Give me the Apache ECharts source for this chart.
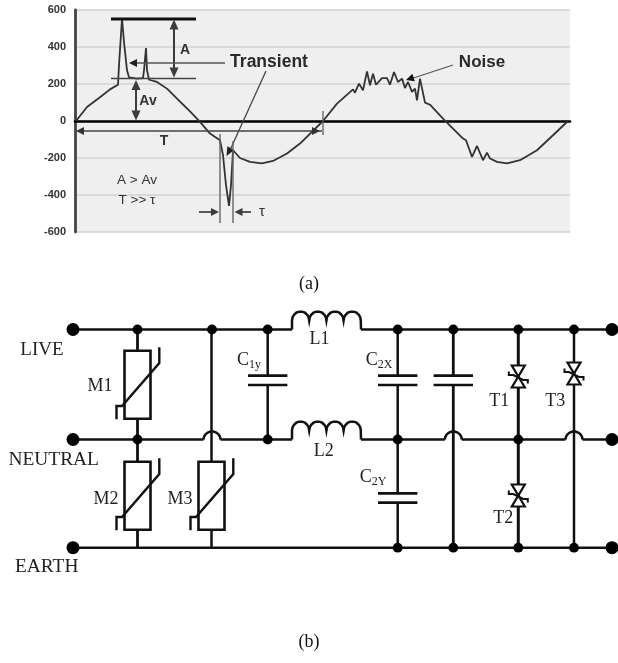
<!DOCTYPE html>
<html><head><meta charset="utf-8">
<style>html,body{margin:0;padding:0;background:#fff}#c{width:618px;height:663px;filter:blur(0.55px)}</style>
<script src="https://cdn.jsdelivr.net/npm/echarts@6/dist/echarts.min.js"></script>
</head><body><div id="c"></div>
<script>
// Waveform panel (a): horizontal position along the trace, and voltage
const waveX = [1,12,25,35,43,44,47,49,52,54,62,68,69,71,72,74,82,92,102,115,125,135,145,148,151,154,156,158,165,175,187,198,212,225,248,262,278,280,284,288,292,295,298,301,307,312,315,319,323,327,330,333,337,340,342,345,347,350,355,368,388,391,397,402,408,412,415,422,432,445,462,478,493];
const waveV = [0,76,128,171,196,301,553,427,274,236,229,232,274,394,274,223,211,175,121,52,-5,-68,-104,-185,-347,-459,-347,-158,-200,-221,-229,-216,-176,-122,0,94,171,153,202,166,268,193,256,196,232,232,196,265,211,229,178,211,157,175,112,229,229,99,88,13,-95,-104,-194,-135,-212,-171,-203,-221,-229,-212,-158,-77,0];
const yTicks = [-600,-400,-200,0,200,400,600];

// Schematic panel (b): rails and branch positions
const railLive = 329.5, railNeutral = 439.5, railEarth = 547.7;
const termLeft = 73, termRight = 612;
const liveNodes = [137.5,212,267.7,397.7,453.3,518.3,574];
const neutralNodes = [137.5,267.7,397.7,518.3];
const earthNodes = [397.7,453.3,518.3,574];
const humps = [212,453.3,574];
const caps = [[267.7,380.3],[397.7,380.3],[453.3,380.3],[397.7,498]];
const varistors = [[137.5,350.7],[137.5,461.7],[211.5,461.7]];
const triacs = [[518.3,376.5],[518.3,495.5],[574,373.5]];

const serif = '"Liberation Serif","Times New Roman",serif';
const sans = '"Liberation Sans",Arial,sans-serif';
const ink = '#111', gray = '#3c3c3c';

function renderAll(params, api){
  const P = (x,y)=>api.coord([x,y]);
  const out = [];
  const line = (pts,w,c)=>out.push({type:'polyline',shape:{points:pts.map(p=>P(p[0],p[1]))},style:{stroke:c||ink,lineWidth:w||2,fill:null,lineJoin:'miter'}});
  const poly = (pts,fill,stroke,w)=>out.push({type:'polygon',shape:{points:pts.map(p=>P(p[0],p[1]))},style:{fill:fill,stroke:stroke||null,lineWidth:w||0}});
  const dot = (x,y,r)=>{const c=P(x,y);out.push({type:'circle',shape:{cx:c[0],cy:c[1],r:r},style:{fill:'#000'}});};
  const txt = (s,x,y,size,fam,weight,col,rich)=>{const c=P(x,y);out.push({type:'text',style:{x:c[0],y:c[1],text:s,fontSize:size,fontFamily:fam,fontWeight:weight||'normal',fill:col||'#222',textAlign:'center',textVerticalAlign:'middle',rich:rich}});};
  const arrow = (x1,y1,x2,y2,len,hw,c)=>{
    const d=Math.hypot(x2-x1,y2-y1),ux=(x2-x1)/d,uy=(y2-y1)/d;
    poly([[x2,y2],[x2-ux*len-uy*hw,y2-uy*len+ux*hw],[x2-ux*len+uy*hw,y2-uy*len-ux*hw]],c||gray);
  };
  const seg = (x1,y1,x2,y2,w,c)=>line([[x1,y1],[x2,y2]],w,c);

  // ---- annotations, panel (a)
  seg(111,19,196,19,3,'#111');
  seg(111,78.5,196,78.5,1.4,'#444');
  seg(174,22,174,75,2,gray); arrow(174,32,174,19.5,10,4.5); arrow(174,66,174,77.5,10,4.5);
  seg(136,82,136,118,2,gray); arrow(136,92,136,80,10,4.5); arrow(136,110,136,120.5,10,4.5);
  seg(134,63,225,63,1.4,'#555'); arrow(140,63,129,63,8,4,'#222');
  seg(266,71,231,148,1.3,'#444'); arrow(232,146,226.5,156,9,4,'#222');
  seg(82,131,322,131,1.4,'#444'); arrow(90,131,76,131,8,4,'#333'); arrow(306,131,320,131,8,4,'#333');
  seg(323,111,323,135,1.2,'#555');
  seg(220,134,220,223,1.4,'#666'); seg(233,141,233,223,1.4,'#666');
  seg(199,212,213,212,1.7,gray); arrow(210,212,219,212,8,4);
  seg(240,212,251,212,1.7,gray); arrow(243,212,234.5,212,8,4);
  seg(453,65,412,78.5,1.2,'#555'); arrow(415,77,406,80,8,4,'#111');
  txt('A',185,50,14,sans,'bold','#333');
  txt('Av',148,101,14,sans,'bold','#333');
  txt('T',164,141.5,14,sans,'bold','#333');
  txt('Transient',269,62,17.5,sans,'bold','#2a2a2a');
  txt('Noise',482,62,17,sans,'bold','#2a2a2a');
  txt('A > Av',137,180,13.5,sans,'normal','#333');
  txt('T >> τ',137,200,13.5,sans,'normal','#333');
  txt('τ',262,212,15,sans,'normal','#333');
  txt('(a)',309,284,18,serif,'normal','#111');

  // ---- schematic, panel (b)
  const w = 2.5;
  // live rail and L1, neutral rail and L2
  const coil = (y)=>{
    const pts=[[292,y]];
    const top=y-9, rx=8.6, ry=9;
    for(let i=0;i<4;i++){
      const cx=292+rx+i*2*rx;
      for(let a=180;a>=0;a-=20){const t=a*Math.PI/180;pts.push([cx+rx*Math.cos(t),top-ry*Math.sin(t)]);}
    }
    pts.push([361,y]);
    line(pts,w);
  };
  seg(termLeft,railLive,292,railLive,w); coil(railLive); seg(361,railLive,termRight,railLive,w);
  coil(railNeutral);
  let nx = termLeft;
  humps.forEach((h,i)=>{
    const pts=[];
    for(let a=180;a>=0;a-=20){const t=a*Math.PI/180;pts.push([h+8.5*Math.cos(t),railNeutral-8*Math.sin(t)]);}
    if(i===0){seg(nx,railNeutral,h-8.5,railNeutral,w);seg(h+8.5,railNeutral,292,railNeutral,w);}
    else {seg(i===1?361:nx,railNeutral,h-8.5,railNeutral,w);}
    line(pts,w);
    nx=h+8.5;
  });
  seg(nx,railNeutral,termRight,railNeutral,w);
  seg(termLeft,railEarth,termRight,railEarth,w);

  // branch wires
  seg(137.5,railLive,137.5,railEarth,w+0.3);
  seg(211.5,railLive,211.5,railEarth,w);
  seg(453.3,railLive,453.3,railEarth,w+0.3);
  seg(518.3,railLive,518.3,railEarth,w+0.5);
  seg(574,railLive,574,railEarth,w);
  seg(267.7,railLive,267.7,railNeutral,w);
  seg(397.7,railLive,397.7,railEarth,w);

  // capacitors
  caps.forEach(c=>{
    const x=c[0],y=c[1];
    const l=P(x-20,y-4.7),r=P(x+20,y+4.7);
    out.push({type:'rect',shape:{x:l[0],y:l[1],width:r[0]-l[0],height:r[1]-l[1]},style:{fill:'#fff'}});
    seg(x-19.7,y-4.7,x+19.7,y-4.7,2.7); seg(x-19.7,y+4.7,x+19.7,y+4.7,2.7);
  });

  // varistors
  varistors.forEach(v=>{
    const x=v[0],t=v[1];
    const a=P(x-13,t),b=P(x+13,t+68);
    out.push({type:'rect',shape:{x:a[0],y:a[1],width:b[0]-a[0],height:b[1]-a[1]},style:{fill:'#fff',stroke:ink,lineWidth:2.6}});
    line([[x-21,t+68.6],[x-21,t+55.3],[x-15.5,t+55.3],[x+21.8,t+12.3],[x+21.8,t-3.4]],2.4);
  });

  // triacs
  triacs.forEach(t=>{
    const x=t[0],y=t[1];
    poly([[x-6.5,y-11],[x+6.5,y-11],[x,y]],'#fff',ink,2.2);
    poly([[x-6.5,y+11],[x+6.5,y+11],[x,y]],'#fff',ink,2.2);
    line([[x-9.5,y-5],[x-9.5,y-1.5],[x-5,y-1.5],[x+5,y+3.5],[x+9.5,y+3.5],[x+9.5,y+7]],2);
  });

  // nodes and terminals
  liveNodes.forEach(x=>dot(x,railLive,4.9));
  neutralNodes.forEach(x=>dot(x,railNeutral,4.9));
  earthNodes.forEach(x=>dot(x,railEarth,4.9));
  [railLive,railNeutral,railEarth].forEach(y=>{dot(termLeft,y,6.5);dot(termRight,y,6.5);});

  // labels
  const T = (s,x,y,sz)=>txt(s,x,y,sz||18,serif,'normal','#222');
  T('LIVE',42,350,19); T('NEUTRAL',53.7,460,19.4); T('EARTH',46.7,567,19.4);
  T('M1',100,386); T('M2',106,499); T('M3',180,499);
  T('L1',319.5,339.5); T('L2',323.7,451);
  T('T1',499.3,401); T('T3',555.3,401); T('T2',503.3,518.5);
  const sub={c:{fontSize:18,fontFamily:serif,fill:'#222'},s:{fontSize:12,fontFamily:serif,fill:'#222',padding:[9,0,0,0]}};
  txt('{c|C}{s|1y}',249,360,18,serif,'normal','#222',sub);
  txt('{c|C}{s|2X}',379,360,18,serif,'normal','#222',sub);
  txt('{c|C}{s|2Y}',373,477.5,18,serif,'normal','#222',sub);
  txt('(b)',309,642,18,serif,'normal','#111');

  return {type:'group',children:out};
}

const chart = echarts.init(document.getElementById('c'),null,{renderer:'canvas'});
chart.setOption({
  animation:false,
  backgroundColor:'#fff',
  grid:[
    {left:75,top:10,width:495,height:222,show:true,backgroundColor:'#efefef',borderWidth:0},
    {left:0,top:0,width:618,height:663,show:false}
  ],
  xAxis:[
    {gridIndex:0,type:'value',min:0,max:495,axisTick:{show:false},axisLabel:{show:false},splitLine:{show:false},
     axisLine:{show:true,onZero:true,lineStyle:{color:'#000',width:2.6}}},
    {gridIndex:1,type:'value',min:0,max:618,show:false}
  ],
  yAxis:[
    {gridIndex:0,type:'value',min:-600,max:600,interval:200,
     axisLine:{show:true,onZero:false,lineStyle:{color:'#444',width:2.8}},axisTick:{show:false},
     axisLabel:{margin:9,color:'#333',fontFamily:sans,fontWeight:'bold',fontSize:11,
       formatter:v=>yTicks.includes(v)?String(v):''},
     splitLine:{show:true,lineStyle:{color:'#d2d2d2',width:1.6}}},
    {gridIndex:1,type:'value',min:0,max:663,inverse:true,show:false}
  ],
  series:[
    {type:'line',xAxisIndex:0,yAxisIndex:0,symbol:'none',smooth:false,silent:true,
     lineStyle:{color:'#333',width:1.8},data:waveX.map((x,i)=>[x,waveV[i]])},
    {type:'custom',xAxisIndex:1,yAxisIndex:1,coordinateSystem:'cartesian2d',silent:true,clip:false,
     renderItem:renderAll,data:[[0,0]],z:5}
  ]
});
</script></body></html>
